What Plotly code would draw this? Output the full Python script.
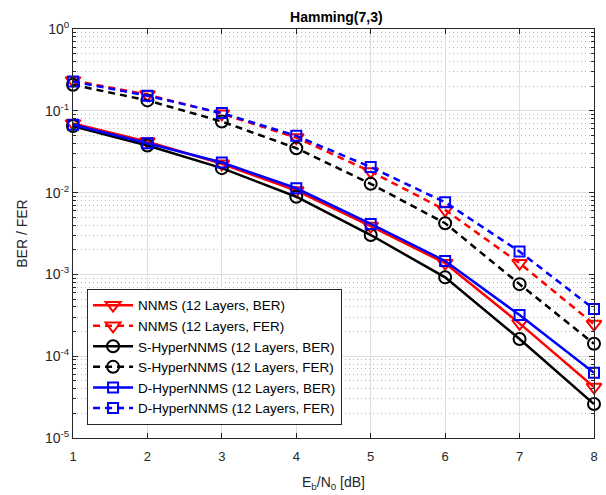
import plotly.graph_objects as go

ebn0 = [1, 2, 3, 4, 5, 6, 7, 8]

nnms_ber = [0.070, 0.042, 0.0225, 0.0106, 0.0039, 0.00137, 0.000252, 4.2e-5]
nnms_fer = [0.235, 0.158, 0.092, 0.047, 0.0181, 0.00614, 0.00137, 0.000247]
shyper_ber = [0.065, 0.0376, 0.0199, 0.0089, 0.00303, 0.00092, 0.000162, 2.6e-5]
shyper_fer = [0.208, 0.134, 0.074, 0.0349, 0.0128, 0.00422, 0.00076, 0.000142]
dhyper_ber = [0.0674, 0.0402, 0.0233, 0.0113, 0.00414, 0.00146, 0.000318, 6.26e-5]
dhyper_fer = [0.228, 0.153, 0.0937, 0.0494, 0.0205, 0.00762, 0.0019, 0.000377]

series_names = [
    "NNMS (12 Layers, BER)",
    "NNMS (12 Layers, FER)",
    "S-HyperNNMS (12 Layers, BER)",
    "S-HyperNNMS (12 Layers, FER)",
    "D-HyperNNMS (12 Layers, BER)",
    "D-HyperNNMS (12 Layers, FER)",
]
series_values = [nnms_ber, nnms_fer, shyper_ber, shyper_fer, dhyper_ber, dhyper_fer]

y_tickvals = [1e-5, 1e-4, 1e-3, 1e-2, 1e-1, 1]
y_ticktext = ["10<sup>-5</sup>", "10<sup>-4</sup>", "10<sup>-3</sup>",
              "10<sup>-2</sup>", "10<sup>-1</sup>", "10<sup>0</sup>"]
x_tickvals = [1, 2, 3, 4, 5, 6, 7, 8]

styles = [
    dict(color="#ff0000", symbol="triangle-down-open", size=13, dash="solid"),
    dict(color="#ff0000", symbol="triangle-down-open", size=13, dash="7px,5px"),
    dict(color="#000000", symbol="circle-open", size=12, dash="solid"),
    dict(color="#000000", symbol="circle-open", size=12, dash="7px,5px"),
    dict(color="#0000ff", symbol="square-open", size=10, dash="solid"),
    dict(color="#0000ff", symbol="square-open", size=10, dash="7px,5px"),
]

fig = go.Figure()
for name, vals, st in zip(series_names, series_values, styles):
    fig.add_trace(go.Scatter(
        x=ebn0, y=vals, name=name, mode="lines+markers", cliponaxis=False,
        line=dict(color=st["color"], width=2.5, dash=st["dash"]),
        marker=dict(symbol=st["symbol"], size=st["size"], color=st["color"],
                    line=dict(color=st["color"], width=2)),
    ))

minor_vals = [k * 10.0 ** d for d in range(-5, 0) for k in range(2, 10)]

font_family = "Liberation Sans, Arial, sans-serif"
fig.update_layout(
    width=606, height=495,
    margin=dict(l=73, r=12, t=29, b=57, autoexpand=False),
    paper_bgcolor="white", plot_bgcolor="white",
    font=dict(family=font_family, size=13, color="#262626"),
    title=dict(text="<b>Hamming(7,3)</b>", x=0.555, xanchor="center",
               y=1 - 17 / 495, yanchor="middle", yref="container",
               font=dict(size=14, color="#000000")),
    showlegend=True,
    legend=dict(x=0.027, y=0.032, xanchor="left", yanchor="bottom",
                bgcolor="white", bordercolor="#262626", borderwidth=1,
                font=dict(size=13.5, color="#000000"), tracegroupgap=0,
                itemwidth=40),
    xaxis=dict(
        range=[1, 8], tickvals=x_tickvals, showgrid=True, gridcolor="#dedede",
        gridwidth=1, zeroline=False, showline=True, linecolor="#262626",
        linewidth=1, mirror="allticks", ticks="inside", ticklen=5,
        tickcolor="#262626", tickfont=dict(size=13), ticklabelstandoff=6,
        automargin=False,
        title=dict(text="E<sub>b</sub>/N<sub>0</sub> [dB]", font=dict(size=14), standoff=14),
    ),
    yaxis=dict(
        type="log", range=[-5, 0], tickvals=y_tickvals, ticktext=y_ticktext,
        showgrid=True, gridcolor="#dedede", gridwidth=1, zeroline=False,
        showline=True, linecolor="#262626", linewidth=1, mirror="allticks",
        ticks="inside", ticklen=5, tickcolor="#262626", tickfont=dict(size=14),
        automargin=False,
        title=dict(text="BER / FER", font=dict(size=14), standoff=14),
        minor=dict(tickvals=minor_vals, showgrid=True, griddash="1px,3px",
                   gridcolor="#b8b8b8", gridwidth=1, ticks="inside", ticklen=3,
                   tickcolor="#262626"),
    ),
)

fig.write_html("out.html", config={"displayModeBar": False},
               post_script="document.body.style.margin='0';document.body.style.overflow='hidden';")
